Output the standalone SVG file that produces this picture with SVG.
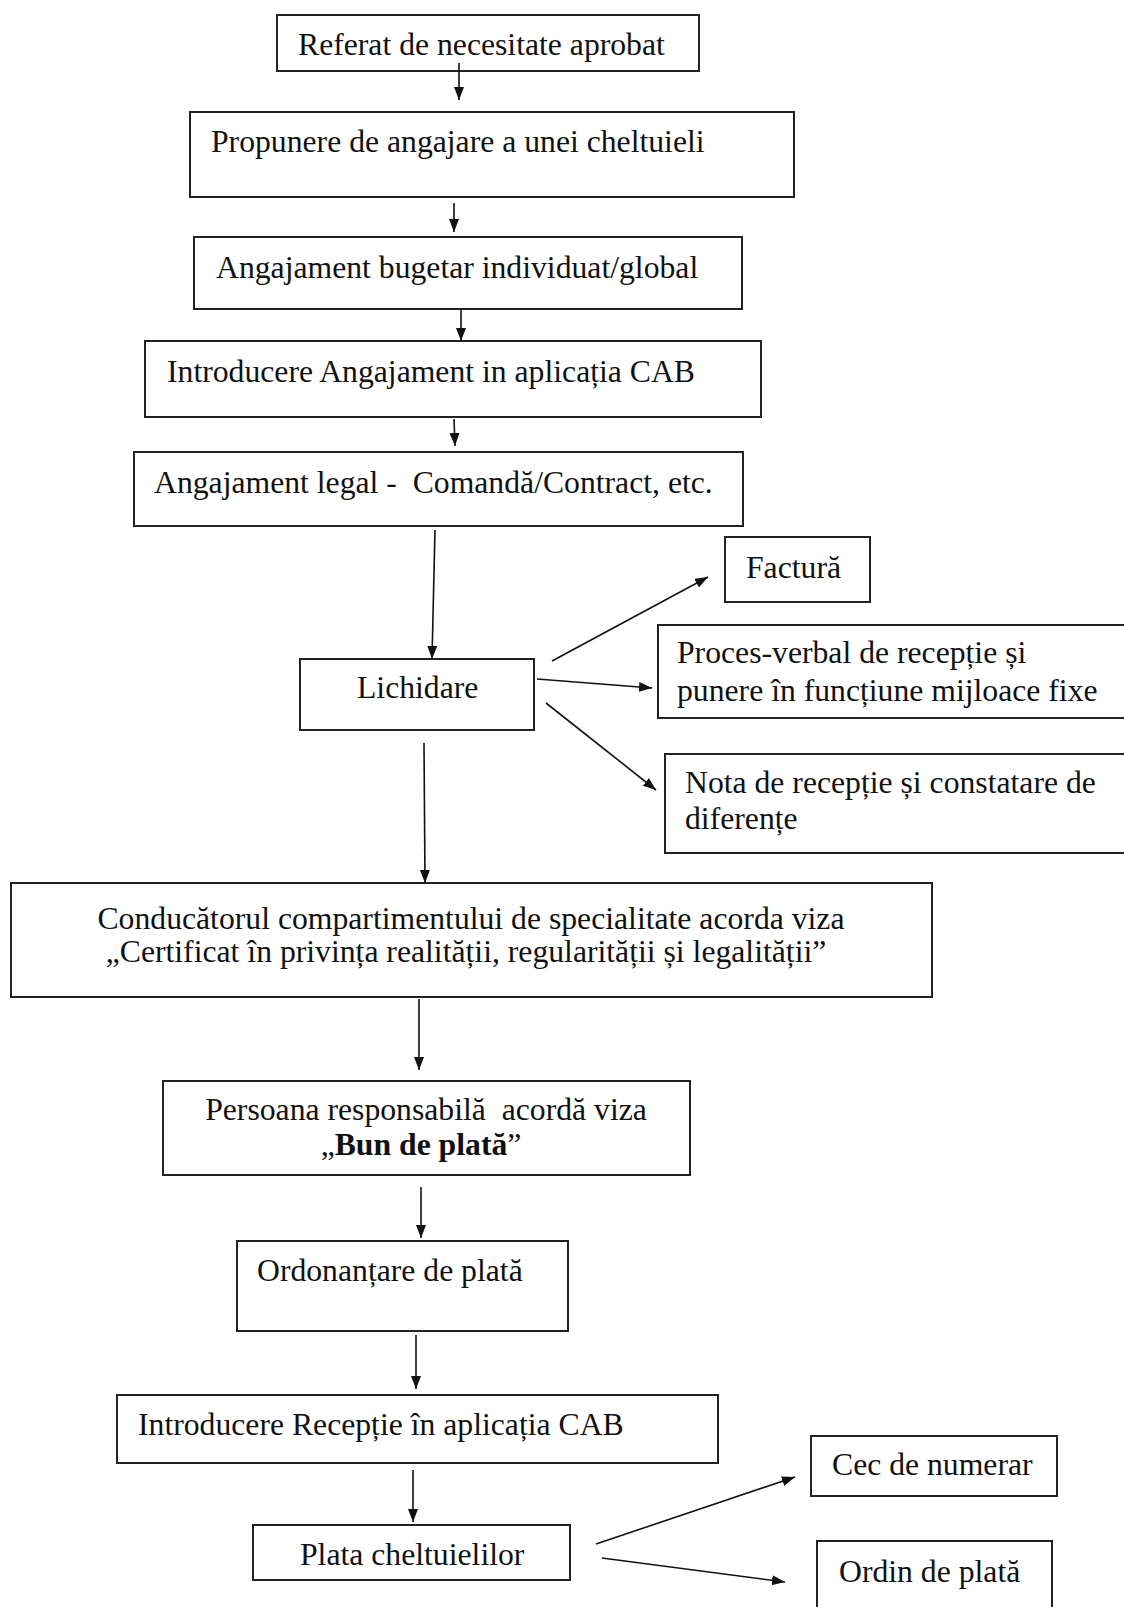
<svg xmlns="http://www.w3.org/2000/svg" width="1124" height="1607" viewBox="0 0 1124 1607">
<style>
.box{fill:#fff;stroke:#222;stroke-width:2}
text{font-family:"Liberation Serif","Times New Roman",serif;font-size:31.7px;fill:#111}
.c{text-anchor:middle}
.b{font-weight:bold}
.ln{stroke:#111;stroke-width:1.6;fill:none;marker-end:url(#ah)}
</style>
<defs>
<marker id="ah" markerUnits="userSpaceOnUse" markerWidth="14" markerHeight="11" refX="13" refY="5" orient="auto">
<path d="M0,0 L13,5 L0,10 z" fill="#111"/>
</marker>
</defs>
<rect width="1124" height="1607" fill="#fff"/>
<g id="n1"><rect class="box" x="277" y="15" width="422" height="56"/><text x="298" y="55">Referat de necesitate aprobat</text></g>
<g id="n2"><rect class="box" x="190" y="112" width="604" height="85"/><text x="211" y="152">Propunere de angajare a unei cheltuieli</text></g>
<g id="n3"><rect class="box" x="194" y="237" width="548" height="72"/><text x="216" y="278">Angajament bugetar individuat/global</text></g>
<g id="n4"><rect class="box" x="145" y="341" width="616" height="76"/><text x="167" y="382">Introducere Angajament in aplicația CAB</text></g>
<g id="n5"><rect class="box" x="134" y="452" width="609" height="74"/><text x="154" y="493" xml:space="preserve">Angajament legal -  Comandă/Contract, etc.</text></g>
<g id="n6"><rect class="box" x="300" y="659" width="234" height="71"/><text x="357" y="698">Lichidare</text></g>
<g id="n7"><rect class="box" x="725" y="537" width="145" height="65"/><text x="746" y="578">Factură</text></g>
<g id="n8"><rect class="box" x="658" y="625" width="470" height="93"/><text x="677" y="663">Proces-verbal de recepție și</text><text x="677" y="701">punere în funcțiune mijloace fixe</text></g>
<g id="n9"><rect class="box" x="665" y="754" width="463" height="99"/><text x="685" y="793">Nota de recepție și constatare de</text><text x="685" y="829">diferențe</text></g>
<g id="n10"><rect class="box" x="11" y="883" width="921" height="114"/><text class="c" x="471" y="929">Conducătorul compartimentului de specialitate acorda viza</text><text class="c" x="466" y="962">„Certificat în privința realității, regularității și legalității”</text></g>
<g id="n11"><rect class="box" x="163" y="1081" width="527" height="94"/><text class="c" x="426" y="1120" xml:space="preserve">Persoana responsabilă  acordă viza</text><text class="c" x="421" y="1155">„<tspan class="b">Bun de plată</tspan>”</text></g>
<g id="n12"><rect class="box" x="237" y="1241" width="331" height="90"/><text x="257" y="1281">Ordonanțare de plată</text></g>
<g id="n13"><rect class="box" x="117" y="1395" width="601" height="68"/><text x="138" y="1435">Introducere Recepție în aplicația CAB</text></g>
<g id="n14"><rect class="box" x="253" y="1525" width="317" height="55"/><text x="300" y="1565">Plata cheltuielilor</text></g>
<g id="n15"><rect class="box" x="811" y="1436" width="246" height="60"/><text x="832" y="1475">Cec de numerar</text></g>
<g id="n16"><rect class="box" x="817" y="1541" width="235" height="80"/><text x="839" y="1582">Ordin de plată</text></g>
<g id="connectors">
<line class="ln" x1="459" y1="63" x2="459" y2="100"/>
<line class="ln" x1="454" y1="203" x2="454" y2="232"/>
<line class="ln" x1="461" y1="309" x2="461" y2="341"/>
<line class="ln" x1="454" y1="419" x2="455" y2="446"/>
<line class="ln" x1="435" y1="530" x2="432" y2="659"/>
<line class="ln" x1="552" y1="661" x2="708" y2="577"/>
<line class="ln" x1="537" y1="679" x2="652" y2="688"/>
<line class="ln" x1="546" y1="703" x2="656" y2="790"/>
<line class="ln" x1="424" y1="743" x2="425" y2="883"/>
<line class="ln" x1="419" y1="999" x2="419" y2="1070"/>
<line class="ln" x1="421" y1="1187" x2="421" y2="1238"/>
<line class="ln" x1="416" y1="1335" x2="416" y2="1389"/>
<line class="ln" x1="413" y1="1470" x2="413" y2="1522"/>
<line class="ln" x1="596" y1="1544" x2="795" y2="1477"/>
<line class="ln" x1="602" y1="1558" x2="785" y2="1582"/>
</g>
</svg>
